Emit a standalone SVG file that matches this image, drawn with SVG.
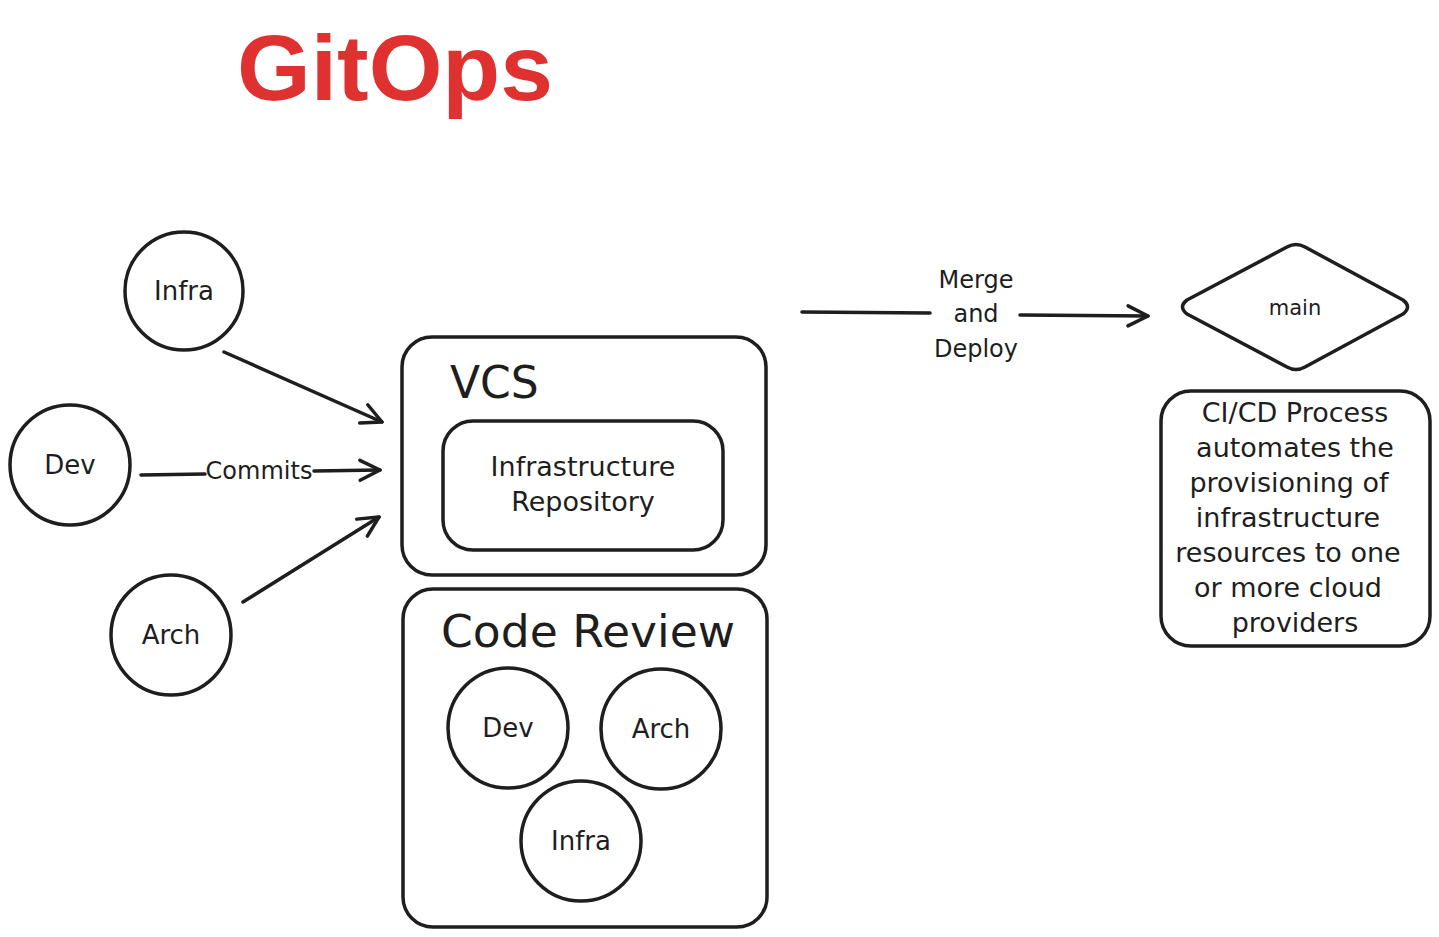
<svg xmlns="http://www.w3.org/2000/svg" width="1439" height="937" viewBox="0 0 1439 937">
<style>
.s{fill:none;stroke:#1e1e1e;stroke-width:3.5;stroke-linecap:round;stroke-linejoin:round}
.t{font-family:"DejaVu Sans","Liberation Sans",sans-serif;fill:#1e1e1e;text-anchor:middle}
.m{font-size:24px}
.c{font-size:26px}
.l{font-size:27px}
</style>
<defs>
<marker id="ah" markerUnits="userSpaceOnUse" markerWidth="40" markerHeight="40" refX="0" refY="0" orient="auto" overflow="visible">
<path d="M -20 -10 L 0 0 L -20 10" fill="none" stroke="#1e1e1e" stroke-width="3.5" stroke-linecap="round" stroke-linejoin="round"/>
</marker>
</defs>
<rect width="1439" height="937" fill="#ffffff"/>
<text id="title" x="395" y="100" font-family="Liberation Sans, sans-serif" font-size="92" font-weight="bold" fill="#e03131" text-anchor="middle" textLength="316" lengthAdjust="spacingAndGlyphs">GitOps</text>

<g id="infra1"><circle class="s" cx="184" cy="291" r="59"/><text class="t c" x="184" y="300">Infra</text></g>
<g id="dev1"><circle class="s" cx="70" cy="465" r="60"/><text class="t c" x="70" y="474">Dev</text></g>
<g id="arch1"><circle class="s" cx="171" cy="635" r="60"/><text class="t c" x="171" y="644">Arch</text></g>

<g id="vcs"><rect class="s" x="402" y="337" width="364" height="238" rx="30"/><text class="t" x="450" y="398" style="font-size:44px;text-anchor:start">VCS</text></g>
<g id="repo"><rect class="s" x="443" y="421" width="280" height="129" rx="30"/><text class="t l" x="583" y="476">Infrastructure</text><text class="t l" x="583" y="511">Repository</text></g>

<g id="review"><rect class="s" x="403" y="589" width="364" height="338" rx="30"/><text class="t" x="588" y="647" font-size="44" textLength="294" lengthAdjust="spacingAndGlyphs">Code Review</text></g>
<g id="dev2"><circle class="s" cx="508" cy="728" r="60"/><text class="t c" x="508" y="737">Dev</text></g>
<g id="arch2"><circle class="s" cx="661" cy="729" r="60"/><text class="t c" x="661" y="738">Arch</text></g>
<g id="infra2"><circle class="s" cx="581" cy="841" r="60"/><text class="t c" x="581" y="850">Infra</text></g>

<g id="main"><path class="s" d="M 1187 300 L 1287 247 Q 1296 242 1305 247 L 1403 300 Q 1412 307 1403 314 L 1305 367 Q 1296 372 1287 367 L 1187 314 Q 1178 307 1187 300 Z"/><text class="t" x="1295" y="315" font-size="21">main</text></g>

<g id="cicd"><rect class="s" x="1161" y="391" width="269" height="255" rx="30"/>
<g class="t l">
<text x="1295" y="422">CI/CD Process</text>
<text x="1295" y="457">automates the</text>
<text x="1289" y="492">provisioning of</text>
<text x="1288" y="527">infrastructure</text>
<text x="1288" y="562">resources to one</text>
<text x="1288" y="597">or more cloud</text>
<text x="1295" y="632">providers</text>
</g></g>

<g id="connectors">
<line class="s" x1="224" y1="352" x2="382" y2="422" marker-end="url(#ah)"/>
<line class="s" x1="141" y1="475" x2="205" y2="474"/>
<line class="s" x1="314" y1="471" x2="380" y2="470" marker-end="url(#ah)"/>
<text class="t m" x="259" y="479">Commits</text>
<line class="s" x1="243" y1="602" x2="379" y2="517" marker-end="url(#ah)"/>
<line class="s" x1="802" y1="312" x2="930" y2="313"/>
<line class="s" x1="1020" y1="315" x2="1148" y2="316" marker-end="url(#ah)"/>
<text class="t m" x="976" y="288">Merge</text>
<text class="t m" x="976" y="322">and</text>
<text class="t m" x="976" y="357">Deploy</text>
</g>
</svg>
